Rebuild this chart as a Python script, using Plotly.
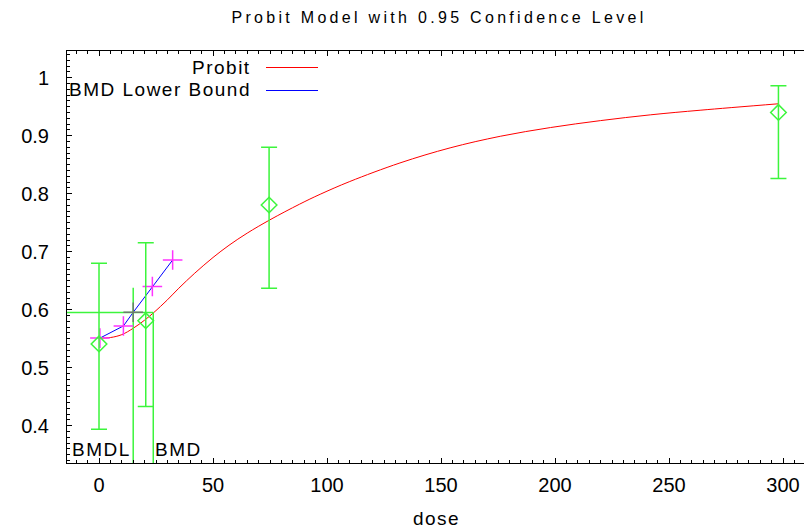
import plotly.graph_objects as go

# ---- observed data (dose groups, response, confidence limits) ----
dose_obs = [0, 20.5, 74.6, 298]
resp_obs = [0.541, 0.581, 0.7805, 0.940]
err_upper = [0.680, 0.7155, 0.880, 0.986]
err_lower = [0.394, 0.433, 0.637, 0.826]

# ---- fitted probit curve ----
curve_dose = [0, 5, 10, 15, 20, 24, 30, 35, 42, 50, 57, 65, 75, 88, 97, 110,
              132, 154, 176, 198, 220, 242, 264, 298]
curve_resp = [0.551, 0.552, 0.557, 0.568, 0.582, 0.595, 0.617, 0.637, 0.663,
              0.690, 0.711, 0.732, 0.755, 0.782, 0.799, 0.821, 0.853, 0.879,
              0.899, 0.914, 0.926, 0.936, 0.944, 0.955]

# ---- BMD lower bound curve ----
lb_dose = [0.4, 10.7, 15.0, 23.4, 32.3]
lb_resp = [0.551, 0.572, 0.5955, 0.640, 0.6857]

# ---- benchmark values ----
bmd = 23.8
bmdl = 15.0
bmr_resp = 0.595
bmdl_line_top = 0.638

x_range = [-14.04, 310.09]
y_range = [0.3357, 1.046]

GREEN = "#3cf53c"
W, H = 806, 531
ML, MR, MT, MB = 67, 0, 51, 68
PW, PH = W - ML - MR, H - MT - MB


def px_x(p):
    return (p - ML) / PW


def px_y(p):
    return (H - MB - p) / PH


fig = go.Figure()

# probit curve
fig.add_trace(go.Scatter(x=curve_dose, y=curve_resp, mode="lines",
                         line=dict(color="#ff0000", width=1, shape="spline"),
                         showlegend=False, hoverinfo="skip"))

# BMD lower bound
fig.add_trace(go.Scatter(x=lb_dose, y=lb_resp, mode="lines",
                         line=dict(color="#0000ff", width=1),
                         showlegend=False, hoverinfo="skip"))

# BMD / BMDL reference lines
fig.add_trace(go.Scatter(x=[x_range[0], bmd], y=[bmr_resp, bmr_resp], mode="lines",
                         line=dict(color=GREEN, width=1.5), showlegend=False,
                         hoverinfo="skip"))
fig.add_trace(go.Scatter(x=[bmd, bmd], y=[y_range[0], bmr_resp], mode="lines",
                         line=dict(color=GREEN, width=1.5), showlegend=False,
                         hoverinfo="skip"))
fig.add_trace(go.Scatter(x=[bmdl, bmdl], y=[y_range[0], bmdl_line_top], mode="lines",
                         line=dict(color=GREEN, width=1.5), showlegend=False,
                         hoverinfo="skip"))

# lower bound markers
marker_colors = ["#ff33ff", "#ff33ff", "#6e7a6e", "#ff33ff", "#ff33ff"]
fig.add_trace(go.Scatter(x=lb_dose, y=lb_resp, mode="markers",
                         marker=dict(symbol="cross-thin-open", size=14,
                                     color=marker_colors,
                                     line=dict(color=marker_colors, width=1.5)),
                         showlegend=False, hoverinfo="skip"))

# observed data with error bars
fig.add_trace(go.Scatter(
    x=dose_obs, y=resp_obs, mode="markers",
    marker=dict(symbol="diamond-open", size=12, color=GREEN,
                line=dict(color=GREEN, width=1.5)),
    error_y=dict(type="data", symmetric=False,
                 array=[u - r for u, r in zip(err_upper, resp_obs)],
                 arrayminus=[r - l for r, l in zip(resp_obs, err_lower)],
                 color=GREEN, thickness=1.5, width=8),
    showlegend=False, hoverinfo="skip"))

FONT = "Arial, Liberation Sans"

# manual legend
legend_items = [("Probit", "#ff0000", 67), ("BMD Lower Bound", "#0000ff", 90)]
for label, col, yp in legend_items:
    fig.add_annotation(x=px_x(253), y=px_y(yp), xref="paper", yref="paper",
                       text='<span style="letter-spacing:1.5px">' + label + '</span>',
                       showarrow=False, xanchor="right", yanchor="middle",
                       font=dict(family=FONT, size=19, color="black"))
    fig.add_shape(type="line", xref="paper", yref="paper",
                  x0=px_x(266), x1=px_x(318), y0=px_y(yp + 0.5), y1=px_y(yp + 0.5),
                  line=dict(color=col, width=1))

# BMDL / BMD labels
fig.add_annotation(x=bmdl, y=0, xref="x", yref="paper", xanchor="right", yanchor="bottom",
                   text='<span style="letter-spacing:1.5px">BMDL</span>', showarrow=False,
                   yshift=1, font=dict(family=FONT, size=19, color="black"))
fig.add_annotation(x=bmd, y=0, xref="x", yref="paper", xanchor="left", yanchor="bottom",
                   text='<span style="letter-spacing:1.5px">BMD</span>', showarrow=False,
                   yshift=1, font=dict(family=FONT, size=19, color="black"))

fig.update_layout(
    width=W, height=H,
    margin=dict(l=ML, r=MR, t=MT, b=MB, autoexpand=False),
    paper_bgcolor="white", plot_bgcolor="white",
    font=dict(family=FONT, color="black"),
    title=dict(text='<span style="letter-spacing:3.3px">Probit Model with 0.95 Confidence Level</span>',
               x=(439 - ML) / PW, xref="paper", y=1 - 17 / H, yref="container",
               xanchor="center", yanchor="middle",
               font=dict(family=FONT, size=16, color="black")),
    showlegend=False,
)

fig.update_xaxes(
    range=x_range, showgrid=False, zeroline=False, automargin=False,
    showline=True, linecolor="black", linewidth=1, mirror="ticks",
    ticks="inside", ticklen=5, tickcolor="black", dtick=50, tick0=0,
    minor=dict(dtick=5, ticks="inside", ticklen=3, tickcolor="black"),
    tickfont=dict(size=20), ticklabelstandoff=4,
    title=dict(text='<span style="letter-spacing:1.5px">dose</span>',
               font=dict(size=19), standoff=16),
)
fig.update_yaxes(
    range=y_range, showgrid=False, zeroline=False, automargin=False,
    showline=True, linecolor="black", linewidth=1, mirror=False,
    ticks="inside", ticklen=5, tickcolor="black", dtick=0.1, tick0=0,
    minor=dict(dtick=0.01, ticks="inside", ticklen=3, tickcolor="black"),
    tickfont=dict(size=20), ticklabelstandoff=13,
)

fig.write_html("out.html",
               config={"displayModeBar": False},
               post_script="document.body.style.margin='0px';"
                           "document.body.style.overflow='hidden';")
